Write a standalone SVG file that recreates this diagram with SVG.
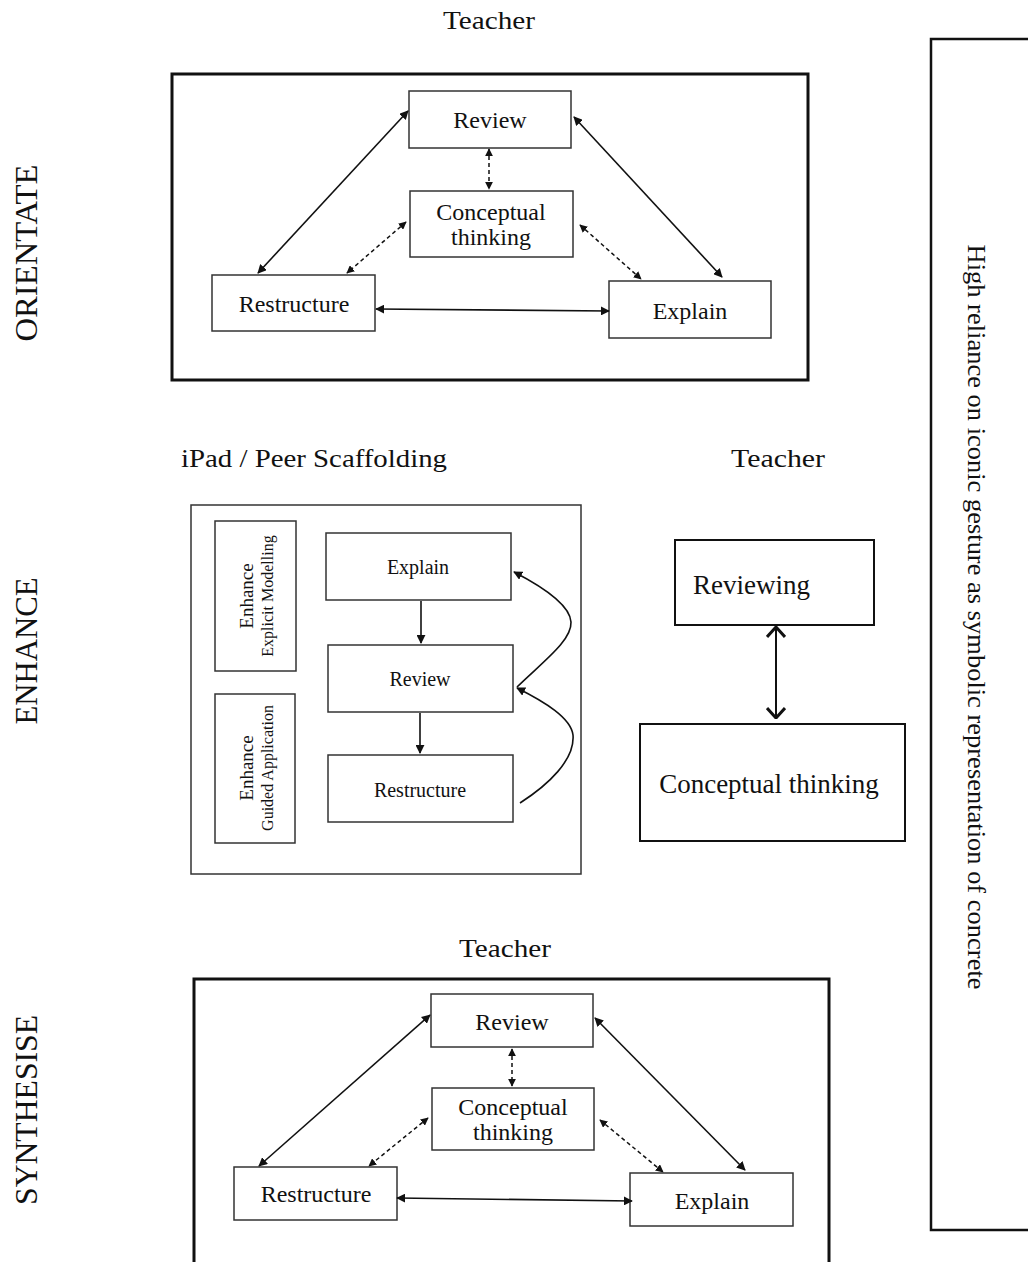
<svg xmlns="http://www.w3.org/2000/svg" width="1028" height="1262" viewBox="0 0 1028 1262">
<defs>
<marker id="ah" viewBox="0 0 10 10" refX="9" refY="5" markerWidth="9" markerHeight="9" markerUnits="userSpaceOnUse" orient="auto-start-reverse"><path d="M0,0 L10,5 L0,10 z" fill="#111"/></marker>
<marker id="ahs" viewBox="0 0 10 10" refX="9" refY="5" markerWidth="8" markerHeight="8" markerUnits="userSpaceOnUse" orient="auto-start-reverse"><path d="M0,0 L10,5 L0,10 z" fill="#111"/></marker>
<marker id="chev" viewBox="0 0 12 20" refX="11" refY="10" markerWidth="12" markerHeight="20" markerUnits="userSpaceOnUse" orient="auto-start-reverse"><path d="M1,1 L11,10 L1,19" fill="none" stroke="#111" stroke-width="3"/></marker>
<style>
.t{font-family:"Liberation Serif","Times New Roman",serif;fill:#111;}
.h{font-family:"Liberation Serif",serif;fill:#111;font-size:26px;}
.big{stroke:#111;stroke-width:3;fill:#fff;}
.box{stroke:#333;stroke-width:1.5;fill:#fff;}
.ln{stroke:#111;stroke-width:1.6;fill:none;}
.ds{stroke:#111;stroke-width:1.5;fill:none;stroke-dasharray:4,3;}
</style>
</defs>
<rect width="1028" height="1262" fill="#fff"/>

<!-- side labels -->
<g id="phase-labels" class="t" font-size="31">
<text transform="translate(37,253) rotate(-90)" text-anchor="middle" textLength="177" lengthAdjust="spacingAndGlyphs">ORIENTATE</text>
<text transform="translate(37,651) rotate(-90)" text-anchor="middle" textLength="147" lengthAdjust="spacingAndGlyphs">ENHANCE</text>
<text transform="translate(37,1110) rotate(-90)" text-anchor="middle" textLength="190" lengthAdjust="spacingAndGlyphs">SYNTHESISE</text>
</g>

<!-- right panel -->
<g id="reliance-panel">
<rect x="931" y="39" width="110" height="1191" fill="#fff" stroke="#111" stroke-width="2.5"/>
<text class="t" font-size="26" transform="translate(968,617) rotate(90)" text-anchor="middle" textLength="745" lengthAdjust="spacingAndGlyphs">High reliance on  iconic gesture as symbolic representation of concrete</text>
</g>

<!-- ORIENTATE -->
<text id="teacher-top" class="h" x="489" y="29" text-anchor="middle" textLength="92" lengthAdjust="spacingAndGlyphs">Teacher</text>
<g id="orientate-frame"><rect class="big" x="172" y="74" width="636" height="306"/></g>
<g id="o-review"><rect class="box" x="409" y="91" width="162" height="57"/><text class="t" font-size="24" x="490" y="128" text-anchor="middle">Review</text></g>
<g id="o-concept"><rect class="box" x="410" y="191" width="163" height="66"/><text class="t" font-size="24" x="491" y="220" text-anchor="middle">Conceptual</text><text class="t" font-size="24" x="491" y="245" text-anchor="middle">thinking</text></g>
<g id="o-restructure"><rect class="box" x="212" y="275" width="163" height="56"/><text class="t" font-size="24" x="294" y="312" text-anchor="middle">Restructure</text></g>
<g id="o-explain"><rect class="box" x="609" y="281" width="162" height="57"/><text class="t" font-size="24" x="690" y="319" text-anchor="middle">Explain</text></g>
<g id="o-connectors">
<line class="ln" x1="258" y1="273" x2="408" y2="111" marker-start="url(#ah)" marker-end="url(#ah)"/>
<line class="ln" x1="574" y1="117" x2="722" y2="277" marker-start="url(#ah)" marker-end="url(#ah)"/>
<line class="ln" x1="376" y1="309" x2="609" y2="311" marker-start="url(#ah)" marker-end="url(#ah)"/>
<line class="ds" x1="489" y1="149" x2="489" y2="189" marker-start="url(#ahs)" marker-end="url(#ahs)"/>
<line class="ds" x1="406" y1="222" x2="347" y2="273" marker-start="url(#ahs)" marker-end="url(#ahs)"/>
<line class="ds" x1="580" y1="225" x2="641" y2="279" marker-start="url(#ahs)" marker-end="url(#ahs)"/>
</g>

<!-- ENHANCE -->
<text id="ipad-label" class="h" x="181" y="467" textLength="266" lengthAdjust="spacingAndGlyphs">iPad / Peer Scaffolding</text>
<text id="teacher-mid" class="h" x="778" y="467" text-anchor="middle" textLength="94" lengthAdjust="spacingAndGlyphs">Teacher</text>
<g id="enhance-frame"><rect x="191" y="505" width="390" height="369" fill="#fff" stroke="#333" stroke-width="1.5"/></g>
<g id="e-modelling"><rect class="box" x="215" y="521" width="81" height="150"/>
<text class="t" font-size="19" transform="translate(253,596) rotate(-90)" text-anchor="middle">Enhance</text>
<text class="t" font-size="16" transform="translate(273,596) rotate(-90)" text-anchor="middle">Explicit Modelling</text></g>
<g id="e-guided"><rect class="box" x="215" y="694" width="80" height="149"/>
<text class="t" font-size="19" transform="translate(253,768) rotate(-90)" text-anchor="middle">Enhance</text>
<text class="t" font-size="16" transform="translate(273,768) rotate(-90)" text-anchor="middle">Guided Application</text></g>
<g id="e-explain"><rect class="box" x="326" y="533" width="185" height="67"/><text class="t" font-size="20" x="418" y="574" text-anchor="middle">Explain</text></g>
<g id="e-review"><rect class="box" x="328" y="645" width="185" height="67"/><text class="t" font-size="20" x="420" y="686" text-anchor="middle">Review</text></g>
<g id="e-restructure"><rect class="box" x="328" y="755" width="185" height="67"/><text class="t" font-size="20" x="420" y="797" text-anchor="middle">Restructure</text></g>
<g id="t-reviewing"><rect x="675" y="540" width="199" height="85" fill="#fff" stroke="#111" stroke-width="2"/><text class="t" font-size="27" x="693" y="594">Reviewing</text></g>
<g id="t-concept"><rect x="640" y="724" width="265" height="117" fill="#fff" stroke="#111" stroke-width="2"/><text class="t" font-size="27" x="769" y="793" text-anchor="middle">Conceptual thinking</text></g>
<g id="e-connectors">
<line class="ln" x1="421" y1="601" x2="421" y2="643" marker-end="url(#ah)"/>
<line class="ln" x1="420" y1="713" x2="420" y2="753" marker-end="url(#ah)"/>
<path class="ln" d="M517,687 C545,660 572,640 571,622 C570,605 545,588 514,572" marker-end="url(#ah)"/>
<path class="ln" d="M520,803 C548,785 575,760 573,735 C571,718 545,702 517,688" marker-end="url(#ah)"/>
<line x1="776" y1="627" x2="776" y2="718" stroke="#111" stroke-width="2" marker-start="url(#chev)" marker-end="url(#chev)"/>
</g>

<!-- SYNTHESISE -->
<text id="teacher-bottom" class="h" x="505" y="957" text-anchor="middle" textLength="92" lengthAdjust="spacingAndGlyphs">Teacher</text>
<g id="synth-frame"><rect class="big" x="194" y="979" width="635" height="300"/></g>
<g id="s-review"><rect class="box" x="431" y="994" width="162" height="53"/><text class="t" font-size="24" x="512" y="1030" text-anchor="middle">Review</text></g>
<g id="s-concept"><rect class="box" x="432" y="1088" width="162" height="62"/><text class="t" font-size="24" x="513" y="1115" text-anchor="middle">Conceptual</text><text class="t" font-size="24" x="513" y="1140" text-anchor="middle">thinking</text></g>
<g id="s-restructure"><rect class="box" x="234" y="1167" width="163" height="53"/><text class="t" font-size="24" x="316" y="1202" text-anchor="middle">Restructure</text></g>
<g id="s-explain"><rect class="box" x="630" y="1173" width="163" height="53"/><text class="t" font-size="24" x="712" y="1209" text-anchor="middle">Explain</text></g>
<g id="s-connectors">
<line class="ln" x1="259" y1="1166" x2="430" y2="1015" marker-start="url(#ah)" marker-end="url(#ah)"/>
<line class="ln" x1="595" y1="1018" x2="745" y2="1170" marker-start="url(#ah)" marker-end="url(#ah)"/>
<line class="ln" x1="397" y1="1198" x2="632" y2="1201" marker-start="url(#ah)" marker-end="url(#ah)"/>
<line class="ds" x1="512" y1="1049" x2="512" y2="1086" marker-start="url(#ahs)" marker-end="url(#ahs)"/>
<line class="ds" x1="428" y1="1118" x2="369" y2="1166" marker-start="url(#ahs)" marker-end="url(#ahs)"/>
<line class="ds" x1="600" y1="1120" x2="663" y2="1172" marker-start="url(#ahs)" marker-end="url(#ahs)"/>
</g>
</svg>
